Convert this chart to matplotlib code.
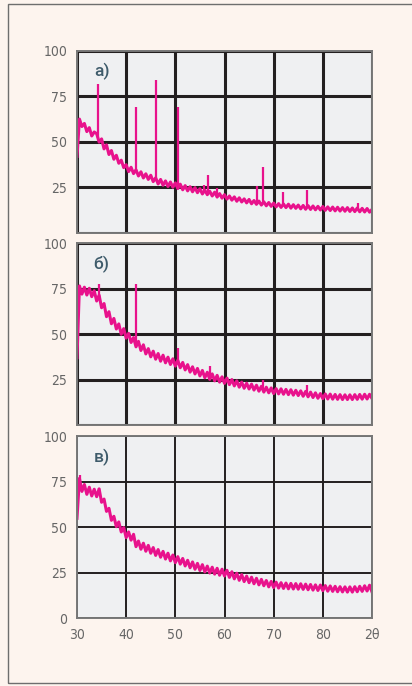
import numpy as np
import matplotlib
matplotlib.use('Agg')
import matplotlib.pyplot as plt
from matplotlib.patches import Rectangle

plt.rcParams['font.family'] = ['DejaVu Sans']
plt.rcParams['font.stretch'] = 'condensed'

# 2theta grid of the scans, step 0.5 deg (30 ... 90)
two_theta = np.arange(30.0, 90.01, 0.5)

# panel a) background counts (noise kept as seen)
counts_a = [42.0, 62.5, 58.4, 60.1, 55.6, 57.8, 53.2, 55.4, 54.5, 49.8,
            51.6, 46.1, 48.3, 43.0, 45.2, 40.4, 42.6, 38.2, 39.9, 35.8,
            37.4, 33.6, 36.0, 32.5, 34.6, 31.2, 33.5, 30.1, 32.4, 29.3,
            31.6, 28.1, 30.2, 26.8, 29.3, 26.1, 28.5, 25.4, 27.9, 25.0,
            27.4, 24.3, 26.7, 23.6, 25.9, 23.0, 25.3, 22.5, 24.8, 22.0,
            24.2, 21.3, 23.4, 20.9, 22.8, 20.2, 22.3, 19.6, 21.5, 19.0,
            20.9, 18.5, 20.2, 17.9, 19.7, 17.3, 19.2, 16.9, 18.6, 16.4,
            18.3, 15.9, 17.7, 15.6, 17.4, 15.2, 17.0, 14.8, 16.6, 14.5,
            16.3, 14.2, 16.0, 13.9, 15.8, 13.8, 15.7, 13.5, 15.4, 13.4,
            15.2, 13.1, 15.0, 12.9, 14.9, 12.8, 14.7, 12.6, 14.5, 12.5,
            14.4, 12.3, 14.2, 12.2, 14.1, 12.0, 14.0, 11.9, 13.8, 11.8,
            13.8, 11.7, 13.6, 11.6, 13.6, 11.5, 13.4, 11.4, 13.3, 11.3,
            12.8]
peak_a_pos = [34.3, 42.1, 46.1, 50.6, 55.8, 56.7, 58.5, 66.7, 67.8, 71.8, 76.7, 87.2]
peak_a_top = [82.0, 69.0, 84.0, 69.0, 26.5, 31.5, 24.5, 25.5, 36.0, 22.5, 23.5, 16.5]
peak_a_base = [52.0, 33.0, 28.5, 25.5, 22.4, 21.8, 20.6, 16.4, 15.9, 14.7, 13.8, 12.4]

# panel b)
counts_b = [37.0, 76.5, 72.0, 75.8, 71.5, 75.2, 70.6, 73.9, 68.2, 71.4,
            64.5, 66.8, 59.6, 62.3, 55.7, 58.6, 52.8, 55.6, 49.9, 53.0,
            47.8, 50.4, 45.4, 48.1, 43.0, 46.0, 41.0, 44.1, 39.1, 42.0,
            37.5, 40.6, 36.2, 39.3, 35.1, 38.4, 34.2, 37.3, 33.3, 36.4,
            32.4, 35.6, 31.5, 34.4, 30.3, 33.2, 29.1, 32.0, 28.1, 31.1,
            27.0, 30.0, 26.0, 29.0, 25.1, 28.1, 24.3, 27.3, 23.6, 26.5,
            22.9, 25.8, 22.2, 25.0, 21.5, 24.3, 20.8, 23.6, 20.2, 23.0,
            19.8, 22.5, 19.2, 21.9, 18.6, 21.3, 18.1, 20.8, 17.7, 20.4,
            17.3, 20.0, 17.1, 19.9, 16.9, 19.6, 16.7, 19.4, 16.4, 19.1,
            16.2, 18.8, 15.8, 18.5, 15.5, 18.1, 15.1, 17.7, 14.7, 17.3,
            14.5, 17.1, 14.3, 17.0, 14.2, 16.8, 14.1, 16.7, 14.0, 16.6,
            14.0, 16.6, 14.0, 16.7, 14.1, 16.8, 14.2, 16.9, 14.3, 16.9,
            14.6]
peak_b_pos = [34.5, 42.1, 50.6, 57.0, 67.9, 76.8]
peak_b_top = [77.7, 77.7, 42.4, 32.6, 24.9, 22.0]
peak_b_base = [69.5, 45.0, 33.8, 26.8, 19.5, 16.8]

# panel c)
counts_c = [55.0, 77.0, 69.8, 73.6, 68.2, 72.1, 67.3, 71.0, 66.9, 71.2,
            63.8, 65.6, 58.8, 60.5, 53.9, 56.1, 50.4, 53.0, 47.5, 49.9,
            44.4, 47.5, 43.0, 46.2, 39.4, 42.5, 38.0, 41.3, 36.9, 40.1,
            35.8, 38.9, 34.6, 37.8, 33.6, 36.8, 32.6, 35.8, 31.6, 34.8,
            30.6, 33.9, 29.8, 32.9, 28.8, 31.9, 27.8, 31.0, 27.0, 30.2,
            26.3, 29.5, 25.5, 28.7, 24.9, 28.1, 24.3, 27.5, 23.7, 27.0,
            23.3, 26.4, 22.5, 25.6, 21.7, 24.8, 20.9, 24.0, 20.2, 23.2,
            19.6, 22.6, 19.0, 22.0, 18.4, 21.4, 17.9, 20.8, 17.3, 20.3,
            16.9, 19.9, 16.6, 19.6, 16.4, 19.4, 16.2, 19.2, 16.1, 19.1,
            16.0, 19.0, 15.9, 18.8, 15.7, 18.6, 15.5, 18.4, 15.3, 18.3,
            15.2, 18.0, 14.9, 17.8, 14.8, 17.6, 14.6, 17.4, 14.5, 17.3,
            14.4, 17.3, 14.4, 17.4, 14.6, 17.6, 14.8, 17.9, 15.0, 18.2,
            14.5]
peak_c_pos = [30.7, 34.5]
peak_c_top = [79.0, 71.5]
peak_c_base = [72.0, 68.0]

panel_labels = ['а)', 'б)', 'в)']
x_ticks = [30, 40, 50, 60, 70, 80, 90]
x_ticklabels = ['30', '40', '50', '60', '70', '80', '2θ']

line_col = '#e8128c'
bg_col = '#fdf4ee'
face_col = '#eff0f2'
grid_col = '#231f20'
text_col = '#666666'

fig = plt.figure(figsize=(4.12, 6.86), dpi=100, facecolor=bg_col)
fig.patches.append(Rectangle((8/412, 3/686), 1.2, 679/686, transform=fig.transFigure,
                             fill=False, edgecolor='#6e6e6e', linewidth=1.0))

left, width = 77/412, 295/412
bottoms = [1 - 232.7/686, 1 - 425/686, 1 - 618.3/686]
height = 181.8/686
grid_lw = [2.2, 2.2, 1.4]

data = [(counts_a, peak_a_pos, peak_a_top, peak_a_base),
        (counts_b, peak_b_pos, peak_b_top, peak_b_base),
        (counts_c, peak_c_pos, peak_c_top, peak_c_base)]

for i, (counts, ppos, ptop, pbase) in enumerate(data):
    ax = fig.add_axes([left, bottoms[i], width, height])
    ax.set_facecolor(face_col)
    ax.plot(two_theta, counts, color=line_col, lw=2.2, zorder=3)
    ax.vlines(ppos, pbase, ptop, color=line_col, lw=1.6, zorder=3)
    ax.set_xlim(30, 90)
    ax.set_ylim(0, 100)
    ax.set_xticks(x_ticks)
    ax.set_yticks([0, 25, 50, 75, 100])
    ax.grid(True, color=grid_col, lw=grid_lw[i], zorder=1)
    ax.set_axisbelow(True)
    for s in ax.spines.values():
        s.set_color('#777777')
        s.set_linewidth(1.4)
        s.set_zorder(4)
    ax.tick_params(length=0, labelsize=10, labelcolor=text_col, pad=7)
    if i < 2:
        ax.set_yticklabels(['', '25', '50', '75', '100'])
        ax.set_xticklabels([])
    else:
        ax.set_yticklabels(['0', '25', '50', '75', '100'])
        ax.set_xticklabels(x_ticklabels)
    ax.text(35, 88.5, panel_labels[i], ha='center', va='center', fontsize=12.5,
            color='#3e5b6b', family=['Roboto', 'DejaVu Sans'], fontweight='medium',
            fontstretch='normal', zorder=5)

fig.savefig('out.png', dpi=100, facecolor=bg_col)
